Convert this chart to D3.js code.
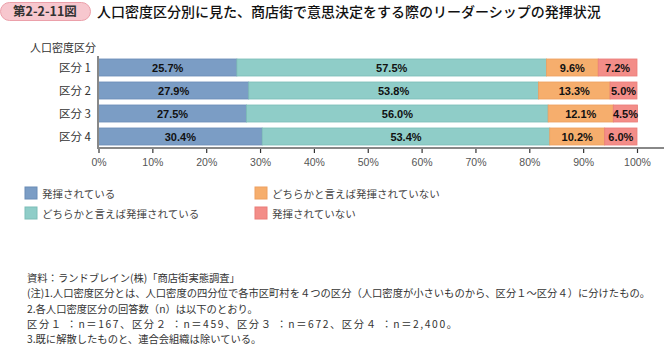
<!DOCTYPE html>
<html><head><meta charset="utf-8">
<script src="https://cdn.jsdelivr.net/npm/d3@7"></script>
<style>
body{margin:0;background:#fff;}
svg{display:block;font-family:"Noto Sans CJK JP","Noto Sans",sans-serif;}
</style></head>
<body><svg id="c" width="664" height="350"></svg>
<script>
const categories = ["区分 1","区分 2","区分 3","区分 4"];
const seriesNames = ["発揮されている","どちらかと言えば発揮されている","どちらかと言えば発揮されていない","発揮されていない"];
const s1 = [25.7, 27.9, 27.5, 30.4];
const s2 = [57.5, 53.8, 56.0, 53.4];
const s3 = [9.6, 13.3, 12.1, 10.2];
const s4 = [7.2, 5.0, 4.5, 6.0];
const ticks = [0,10,20,30,40,50,60,70,80,90,100];
const colors = ["#7b9dc5","#8fcdc8","#f6ae6d","#f38d88"];
const strokes = ["#6a8cb6","#7cbdb7","#eea060","#ea7d79"];
const notes = [
 "資料：ランドブレイン(株)「商店街実態調査」",
 "(注)1.人口密度区分とは、人口密度の四分位で各市区町村を４つの区分（人口密度が小さいものから、区分１～区分４）に分けたもの。",
 "2.各人口密度区分の回答数（n）は以下のとおり。",
 "区分１ ：n＝167、区分２ ：n＝459、区分３ ：n＝672、区分４ ：n＝2,400。",
 "3.既に解散したものと、連合会組織は除いている。"
];

const svg = d3.select("#c");
// title
svg.append("rect").attr("x",0.5).attr("y",2.5).attr("width",90).attr("height",18).attr("rx",9)
  .attr("fill","#f7c7ce").attr("stroke","#eba0aa");
svg.append("text").attr("x",45).attr("y",15.5).attr("text-anchor","middle").attr("font-size",12.5)
  .attr("font-weight","bold").attr("fill","#333").text("第2-2-11図");
svg.append("text").attr("x",97).attr("y",16.5).attr("font-size",14).attr("font-weight","500")
  .attr("fill","#111").text("人口密度区分別に見た、商店街で意思決定をする際のリーダーシップの発揮状況");

const x = d3.scaleLinear().domain([0,100]).range([98.5,637]);
const y = d3.scaleBand().domain(categories).range([56,148]).paddingInner(0.26).paddingOuter(0.13);

const rows = categories.map((c,i)=>({cat:c, vals:[s1[i],s2[i],s3[i],s4[i]]}));
const data = rows.map(r=>{const o={cat:r.cat}; r.vals.forEach((v,k)=>o["k"+k]=v); return o;});
const stack = d3.stack().keys(["k0","k1","k2","k3"])(data);

const g = svg.append("g");
stack.forEach((layer,k)=>{
  g.selectAll(null).data(layer).enter().append("rect")
    .attr("x",d=>x(d[0])).attr("y",d=>y(d.data.cat))
    .attr("width",d=>x(d[1])-x(d[0])).attr("height",y.bandwidth())
    .attr("fill",colors[k]).attr("stroke",strokes[k]).attr("stroke-width",0.8);
  g.selectAll(null).data(layer).enter().append("text")
    .attr("x",d=>(x(d[0])+x(d[1]))/2).attr("y",d=>y(d.data.cat)+y.bandwidth()/2+4)
    .attr("text-anchor","middle").attr("font-size",11).attr("font-weight","bold")
    .attr("font-family","'Liberation Sans Narrow','Liberation Sans',sans-serif")
    .attr("fill","#111").text(d=>(d[1]-d[0]).toFixed(1)+"%");
});

// y axis
svg.append("line").attr("x1",98).attr("x2",98).attr("y1",56).attr("y2",149).attr("stroke","#888").attr("stroke-width",2);
categories.forEach(c=>{
  svg.append("text").attr("x",91).attr("y",y(c)+y.bandwidth()/2+4).attr("text-anchor","end")
    .attr("font-size",11.5).attr("fill","#333").text(c);
});
svg.append("text").attr("x",30).attr("y",52).attr("font-size",11).attr("fill","#333").text("人口密度区分");

// x axis
const xa = svg.append("g").attr("transform","translate(0,148)")
  .call(d3.axisBottom(x).tickValues(ticks).tickFormat(d=>d+"%").tickSize(5).tickPadding(6));
xa.select(".domain").remove();
xa.selectAll(".tick line").attr("stroke","#333").attr("stroke-width",1.2);
xa.selectAll(".tick text").attr("font-size",10.5).attr("fill","#555")
  .attr("font-family","'Liberation Sans Narrow','Liberation Sans',sans-serif");
svg.append("line").attr("x1",97).attr("x2",664).attr("y1",148).attr("y2",148).attr("stroke","#888").attr("stroke-width",2);

// legend
const legPos = [[25,187],[25,207],[255,187],[255,207]];
seriesNames.forEach((n,k)=>{
  const [lx,ly]=legPos[k];
  svg.append("rect").attr("x",lx).attr("y",ly).attr("width",12).attr("height",12)
    .attr("fill",colors[k]).attr("stroke",strokes[k]);
  svg.append("text").attr("x",lx+17).attr("y",ly+10.5).attr("font-size",10.5).attr("fill","#444").text(n);
});

// notes
notes.forEach((t,i)=>{
  const tx = svg.append("text").attr("x",27).attr("y",282+i*15.3).attr("font-size",10.3).attr("fill","#333").text(t);
  if(i===3) tx.attr("textLength",430).attr("lengthAdjust","spacing");
});
</script></body></html>
